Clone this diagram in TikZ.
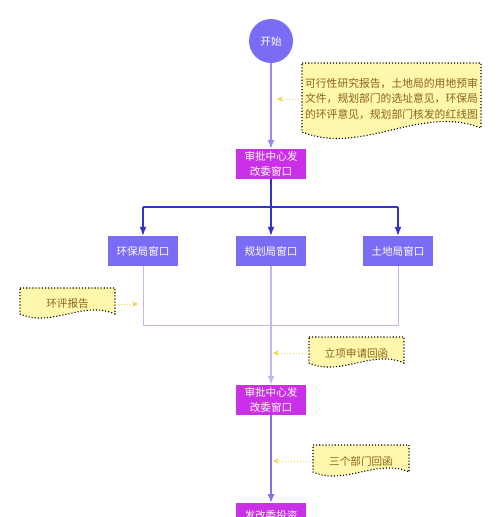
\documentclass[tikz,border=0pt]{standalone}
\usepackage{fontspec}
\setmainfont{Noto Sans CJK SC}
\usetikzlibrary{arrows.meta}
\definecolor{startc}{RGB}{122,108,245}
\definecolor{magc}{RGB}{202,48,232}
\definecolor{darkc}{RGB}{51,51,204}
\definecolor{lightc}{RGB}{192,184,240}
\definecolor{midc}{RGB}{150,138,242}
\definecolor{midc2}{RGB}{128,112,238}
\definecolor{notefill}{RGB}{255,247,172}
\definecolor{notetext}{RGB}{138,100,24}
\definecolor{notearrow}{RGB}{240,212,70}
\tikzset{
  x=1pt, y=1pt,
  every node/.style={font=\fontsize{10.6}{15.5}\selectfont, inner sep=0pt},
  startnode/.style={circle, fill=startc, text=white, minimum size=44},
  magbox/.style={rectangle, fill=magc, text=white, minimum width=70, minimum height=30, align=center},
  bluebox/.style={rectangle, fill=startc, text=white, minimum width=70, minimum height=30},
  notebody/.style={fill=notefill, draw=black, line width=1.1pt, dotted},
  notelabel/.style={text=notetext, align=center},
  tipd/.style={-{Latex[length=9pt,width=7pt]}},
  notearr/.style={draw=notearrow, line width=1pt, dotted, -{Stealth[length=6pt,width=5.5pt,fill=notearrow,line width=0pt]}},
}
\begin{document}
\begin{tikzpicture}
\useasboundingbox (0,0) rectangle (500,-517);
% note shapes
\path[notebody] (302,-63) -- (481,-63) -- (481,-128)
  .. controls (421,-104) and (362,-156) .. (302,-132) -- cycle;
\path[notebody] (20,-288) -- (115,-288) -- (115,-314)
  .. controls (83,-300) and (52,-328) .. (20,-314) -- cycle;
\path[notebody] (309,-337) -- (404,-337) -- (404,-363)
  .. controls (372,-349) and (341,-377) .. (309,-363) -- cycle;
\path[notebody] (313,-445) -- (409,-445) -- (409,-472)
  .. controls (377,-458) and (345,-486) .. (313,-472) -- cycle;
% nodes
\node[startnode] (start) at (271,-41) {开始};
\node[magbox] (sp1) at (271,-164) {审批中心发\\改委窗口};
\node[bluebox] (b1) at (143,-251) {环保局窗口};
\node[bluebox] (b2) at (271,-251) {规划局窗口};
\node[bluebox] (b3) at (398,-251) {土地局窗口};
\node[magbox] (sp2) at (271,-400) {审批中心发\\改委窗口};
\node[magbox, minimum height=24, anchor=north] (fg) at (271,-503) {发改委投资};
\node[notelabel, minimum width=179, font=\fontsize{10.8}{15.5}\selectfont] (n1) at (391.5,-99)
  {可行性研究报告，土地局的用地预审\\文件，规划部门的选址意见，环保局\\的环评意见，规划部门核发的红线图};
\node[notelabel, minimum width=95] (n2) at (67.5,-304) {环评报告};
\node[notelabel, minimum width=95] (n3) at (356.5,-353) {立项申请回函};
\node[notelabel, minimum width=96] (n4) at (361,-461) {三个部门回函};
% coordinates
\coordinate (hy) at (271,-207);
\coordinate (jy) at (271,-325);
\coordinate (a1) at (277,-99);
\coordinate (a2) at (138,-304);
\coordinate (a3) at (273,-353);
\coordinate (a4) at (273,-461);
% connectors
\draw[midc, line width=1.3pt, tipd] (start) -- (sp1);
\draw[darkc, line width=1.3pt, tipd] (sp1) -- (b2);
\draw[darkc, line width=1.3pt] (b1 |- hy) -- (b3 |- hy);
\draw[darkc, line width=1.3pt, tipd] (b1 |- hy) -- (b1);
\draw[darkc, line width=1.3pt, tipd] (b3 |- hy) -- (b3);
\draw[lightc, line width=1pt] (b1) -- (b1 |- jy) -- (b3 |- jy) -- (b3);
\draw[lightc, line width=1.2pt, tipd] (b2) -- (sp2);
\draw[midc2, line width=1.3pt, tipd] (sp2) -- (fg);
\draw[notearr] (n1.west) -- (a1);
\draw[notearr] (n2.east) -- (a2);
\draw[notearr] (n3.west) -- (a3);
\draw[notearr] (n4.west) -- (a4);
\end{tikzpicture}
\end{document}
